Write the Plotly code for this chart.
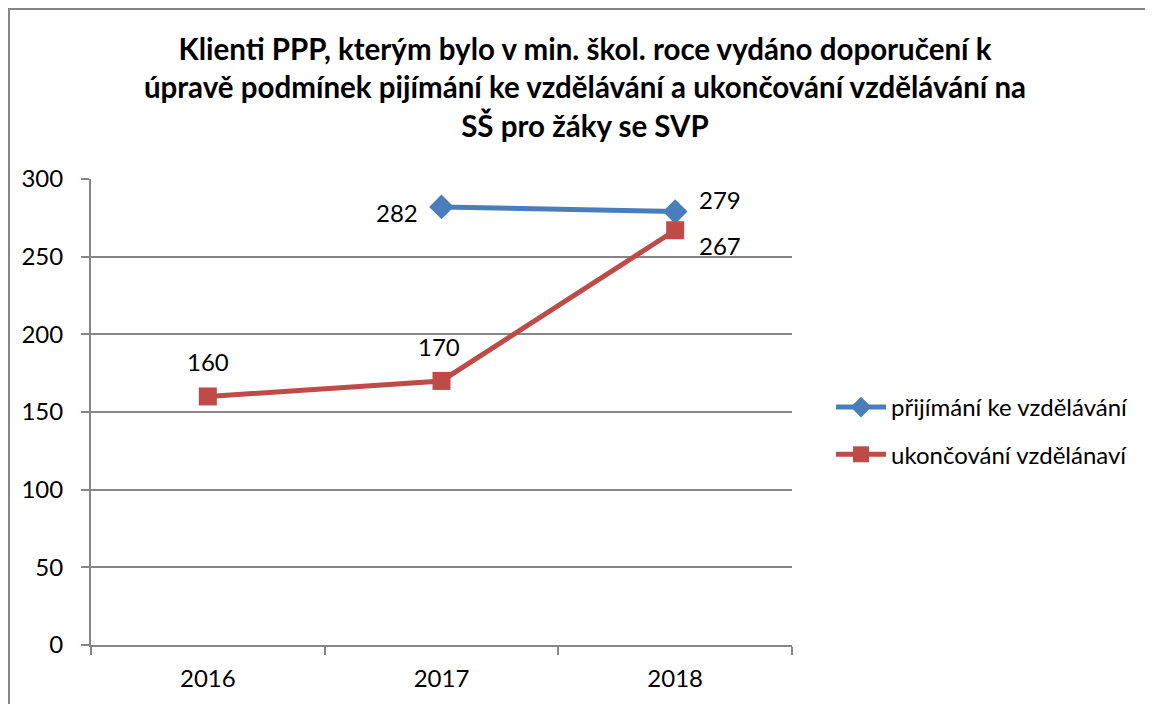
import plotly.graph_objects as go

categories = ["2016", "2017", "2018"]
prijimani = [None, 282, 279]
ukoncovani = [160, 170, 267]
y_ticks = [0, 50, 100, 150, 200, 250, 300]

# label placement (anchor, pixel offsets) per point
prijimani_lbl = [None, ("right", -22, -6), ("left", 22, 12)]
ukoncovani_lbl = [("center", 0, 35), ("center", -3, 34), ("left", 22, -15)]

OFF = 8  # browser body margin
W, H = 1153 - OFF, 704 - OFF
L, R, T, B = 91 - OFF, 1153 - 792, 179 - OFF, 704 - 645
pw, ph = W - L - R, H - T - B

font = "Lato, sans-serif"
FS = 24

fig = go.Figure()
fig.add_trace(go.Scatter(
    x=categories, y=prijimani, name="přijímání ke vzdělávání",
    mode="lines+markers", legendgroup="a",
    line=dict(color="#4A7EBB", width=5),
    marker=dict(symbol="diamond", size=19, color="#4A7EBB"),
    cliponaxis=False,
))
fig.add_trace(go.Scatter(
    x=categories, y=ukoncovani, name="ukončování vzdělánaví",
    mode="lines+markers", legendgroup="b",
    line=dict(color="#BE4B48", width=5),
    marker=dict(symbol="square", size=18, color="#BE4B48"),
    cliponaxis=False,
))

for vals, lbls in ((prijimani, prijimani_lbl), (ukoncovani, ukoncovani_lbl)):
    for i, (v, lb) in enumerate(zip(vals, lbls)):
        if v is None:
            continue
        anchor, dx, dy = lb
        fig.add_annotation(
            x=i, y=v, xref="x", yref="y", text=str(v), showarrow=False,
            xanchor=anchor, yanchor="middle", xshift=dx, yshift=dy,
            font=dict(size=FS, family=font, color="#000000"),
        )

fig.update_layout(
    width=W, height=H,
    margin=dict(l=L, r=R, t=T, b=B, autoexpand=False),
    paper_bgcolor="white", plot_bgcolor="white",
    font=dict(family=font, size=FS, color="#000000"),
    title=dict(
        text="Klienti PPP, kterým bylo v min. škol. roce vydáno doporučení k<br>"
             "úpravě podmínek pijímání ke vzdělávání a ukončování vzdělávání na<br>"
             "SŠ pro žáky se SVP",
        x=(585 - OFF) / W, xanchor="center", y=1 - 52 / H, yanchor="top",
        font=dict(family=font, size=29.5, color="#000000", weight="bold"),
    ),
    xaxis=dict(
        type="category", range=[-0.5, 2.5], tickson="boundaries",
        showline=True, linecolor="#868686", linewidth=2,
        ticks="outside", ticklen=8, tickcolor="#868686", tickwidth=2,
        showgrid=False, tickfont=dict(size=FS, family=font),
        ticklabelstandoff=11,
    ),
    yaxis=dict(
        range=[0, 300], tickvals=y_ticks,
        showline=True, linecolor="#868686", linewidth=2,
        ticks="outside", ticklen=8, tickcolor="#868686", tickwidth=2,
        showgrid=True, gridcolor="#868686", gridwidth=1.5,
        zeroline=False, tickfont=dict(size=FS, family=font),
        ticklabelstandoff=13,
    ),
    legend=dict(
        x=(831 - L - OFF) / pw, xanchor="left",
        y=(645 - 431) / ph, yanchor="middle",
        font=dict(size=FS, family=font), tracegroupgap=13,
        itemwidth=50, bgcolor="rgba(0,0,0,0)",
    ),
    showlegend=True,
)

fig.add_shape(
    type="rect", xref="paper", yref="paper",
    x0=(1 - L) / pw, x1=(1250 - L) / pw,
    y0=-200 / ph, y1=(ph + T - 1) / ph,
    line=dict(color="#868686", width=2), layer="below",
)

fig.write_html("out.html")
